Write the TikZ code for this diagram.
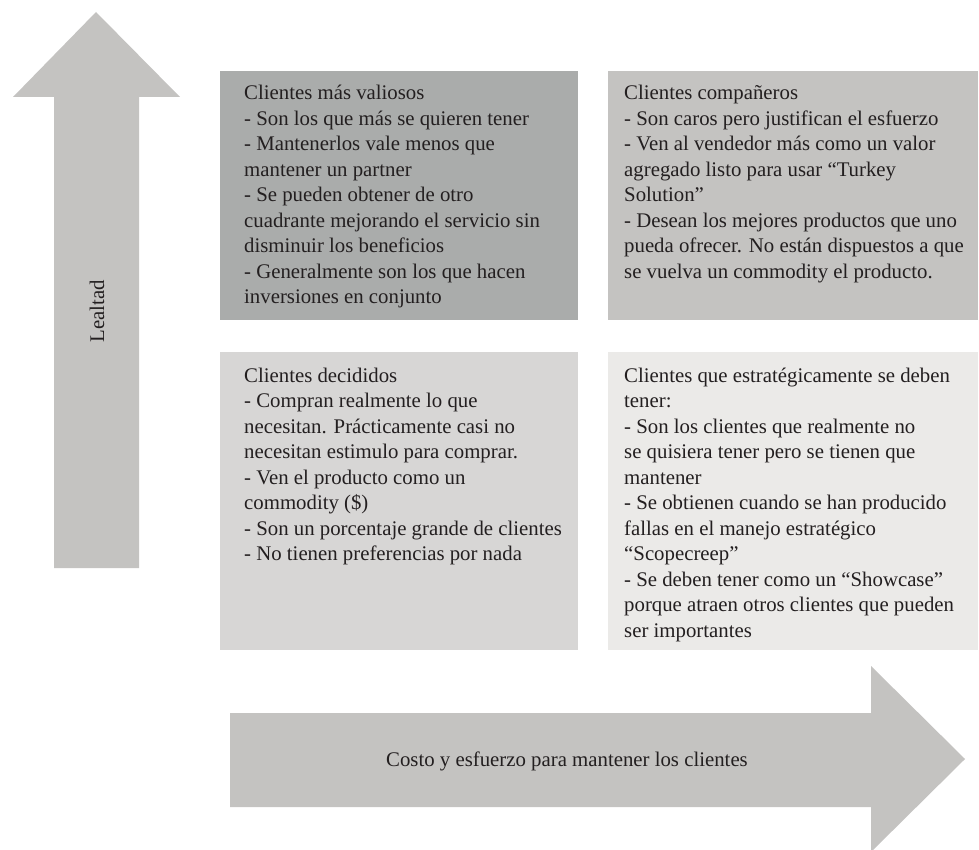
\documentclass[tikz,border=0pt]{standalone}
\usepackage{fontspec}
\setmainfont{Liberation Serif}
\definecolor{cTL}{HTML}{AAACAB}
\definecolor{cTR}{HTML}{C4C3C1}
\definecolor{cBL}{HTML}{D7D6D5}
\definecolor{cBR}{HTML}{EBEAE8}
\definecolor{cArrow}{HTML}{C4C3C1}
\definecolor{cText}{HTML}{231F20}
\newcommand{\qbox}[1]{\parbox[t]{380pt}{\raggedright #1}}
\tikzset{
  quadbox/.style={draw=none, inner sep=0pt, anchor=north west},
  quadtext/.style={inner sep=0pt, anchor=base west, text=cText, font=\fontsize{20.8}{25.5}\selectfont},
  arrowshape/.style={fill=cArrow, draw=none},
  axislabel/.style={inner sep=0pt, text=cText, font=\fontsize{20.8}{25.5}\selectfont}
}
\begin{document}
\begin{tikzpicture}[x=1pt,y=-1pt]
\useasboundingbox (0,0) rectangle (979,850);
% vertical arrow
\fill[arrowshape] (54,568) -- (54,97) -- (13,97) -- (96,12) -- (180,97) -- (139,97) -- (139,568) -- cycle;
\node[axislabel, rotate=90, anchor=base] (lealtad) at (104,311) {Lealtad};
% horizontal arrow
\fill[arrowshape] (230,713) -- (871,713) -- (871,666) -- (965,759) -- (871,852) -- (871,807) -- (230,807) -- cycle;
\node[axislabel, anchor=base] (costo) at (567,766) {Costo y esfuerzo para mantener los clientes};
% boxes
\node[quadbox, fill=cTL, minimum width=358pt, minimum height=249pt] (btl) at (220,71) {};
\node[quadbox, fill=cTR, minimum width=370pt, minimum height=249pt] (btr) at (608,71) {};
\node[quadbox, fill=cBL, minimum width=358pt, minimum height=298pt] (bbl) at (220,352) {};
\node[quadbox, fill=cBR, minimum width=370pt, minimum height=298pt] (bbr) at (608,352) {};
% texts
\node[quadtext] (ttl) at (244,100) {\qbox{Clientes más valiosos\\
- Son los que más se quieren tener\\
- Mantenerlos vale menos que\\
mantener un partner\\
- Se pueden obtener de otro\\
cuadrante mejorando el servicio sin\\
disminuir los beneficios\\
- Generalmente son los que hacen\\
inversiones en conjunto}};
\node[quadtext] (ttr) at (624,100) {\qbox{Clientes compañeros\\
- Son caros pero justifican el esfuerzo\\
- Ven al vendedor más como un valor\\
agregado listo para usar “Turkey\\
Solution”\\
- Desean los mejores productos que uno\\
pueda ofrecer. No están dispuestos a que\\
se vuelva un commodity el producto.}};
\node[quadtext] (tbl) at (244,382) {\qbox{Clientes decididos\\
- Compran realmente lo que\\
necesitan. Prácticamente casi no\\
necesitan estimulo para comprar.\\
- Ven el producto como un\\
commodity (\$)\\
- Son un porcentaje grande de clientes\\
- No tienen preferencias por nada}};
\node[quadtext] (tbr) at (624,382) {\qbox{Clientes que estratégicamente se deben\\
tener:\\
- Son los clientes que realmente no\\
se quisiera tener pero se tienen que\\
mantener\\
- Se obtienen cuando se han producido\\
fallas en el manejo estratégico\\
“Scopecreep”\\
- Se deben tener como un “Showcase”\\
porque atraen otros clientes que pueden\\
ser importantes}};
\end{tikzpicture}
\end{document}
